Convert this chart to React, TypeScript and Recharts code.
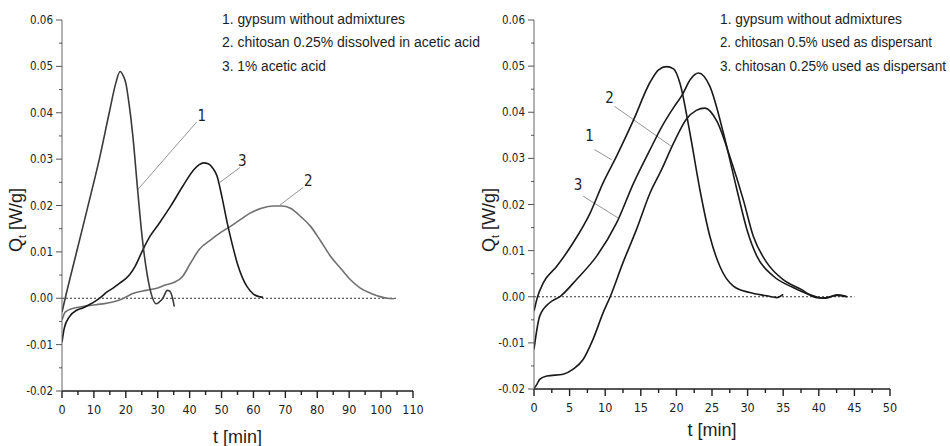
import { LineChart, Line, XAxis, YAxis, ReferenceLine, ReferenceDot } from 'recharts';

// left panel: gypsum / chitosan dissolved in acetic acid
const leftT1 = [0, 1, 4.4, 8, 11.7, 14.8, 16.9, 18.2, 19.3, 20, 21, 22.2, 23.7, 25.1, 26.3, 27.9, 29.5, 30.5, 31.6, 33, 33.6, 34.5, 35.2];
const leftV1 = [-0.003, 0, 0.0095, 0.0195, 0.03, 0.04, 0.0465, 0.0489, 0.0478, 0.0464, 0.042, 0.035, 0.0234, 0.0133, 0.0068, 0.0011, -0.0012, -0.0008, 0, 0.0017, 0.0016, 0.0004, -0.0018];

const leftT2 = [0, 1, 3.3, 6.5, 10.7, 15.9, 19, 22.2, 26.3, 30, 32.6, 35, 37.8, 40.3, 43, 46.6, 50, 52.8, 56, 59.1, 62.5, 66.4, 69, 71.6, 75, 77.9, 81, 84.2, 87.5, 90.4, 93.5, 96.7, 100, 101.9, 104];
const leftV2 = [-0.0047, -0.003, -0.0022, -0.0018, -0.0014, -0.0008, -0.0001, 0.001, 0.0017, 0.0022, 0.0029, 0.0034, 0.0047, 0.0076, 0.0105, 0.0126, 0.0143, 0.0155, 0.017, 0.0184, 0.0194, 0.0199, 0.0199, 0.0194, 0.0175, 0.0155, 0.0124, 0.009, 0.0063, 0.004, 0.0022, 0.0011, 0.0003, 0, -0.0001];

const leftT3 = [0, 0.7, 2.3, 4.6, 6.5, 8.5, 10.7, 12.5, 13.8, 16, 18, 21.1, 23, 25.3, 27.7, 30, 34, 37.8, 41.3, 43, 44.4, 45.8, 47.2, 48.6, 50.2, 51.8, 53.4, 54.9, 56.5, 58, 60, 62.2, 63];
const leftV3 = [-0.0095, -0.0065, -0.004, -0.0026, -0.0021, -0.0014, -0.0005, 0.0004, 0.0012, 0.0022, 0.0032, 0.005, 0.007, 0.0104, 0.0135, 0.0157, 0.0198, 0.0241, 0.0277, 0.0288, 0.0292, 0.029, 0.0281, 0.0263, 0.0216, 0.0162, 0.0115, 0.0076, 0.0045, 0.0025, 0.0009, 0.0003, 0.0002];

// right panel: chitosan used as dispersant
const rightT1 = [0, 0.5, 1.3, 3.2, 5.5, 7.9, 9.7, 11.6, 14, 16.3, 17.5, 18.6, 19.6, 20.5, 21.9, 23.3, 24.7, 26.1, 28, 30.3, 32.7, 34.1, 35];
const rightV1 = [-0.0031, 0, 0.003, 0.0066, 0.0117, 0.0182, 0.0247, 0.0305, 0.0384, 0.0465, 0.0492, 0.0499, 0.0494, 0.0463, 0.0355, 0.0232, 0.0131, 0.0066, 0.0023, 0.0009, 0.0002, -0.0002, 0.0005];

const rightT2 = [0, 0.8, 2.2, 3.7, 6, 8.8, 11.6, 14, 16.3, 18, 19.6, 20.8, 22, 23.1, 24.7, 26.6, 28.5, 29.9, 31.3, 33.6, 36.4, 39.2, 40.5, 42.6, 43.9];
const rightV2 = [-0.0114, -0.0042, -0.0013, 0.0001, 0.0038, 0.0088, 0.016, 0.0247, 0.0319, 0.037, 0.041, 0.0437, 0.0472, 0.0485, 0.0456, 0.0355, 0.0232, 0.0146, 0.0088, 0.0045, 0.002, 0.0002, -0.0003, 0.0003, 0];

const rightT3 = [0, 0.4, 0.8, 1.8, 4.1, 5.5, 6.9, 8.3, 9.7, 10.7, 12.5, 14.4, 16.3, 17.9, 19.6, 21.4, 22.8, 24, 25.7, 27.5, 29.4, 30.8, 32.7, 35, 37.4, 39.7, 41, 42.6, 44];
const rightV3 = [-0.0199, -0.019, -0.0179, -0.0172, -0.0168, -0.0157, -0.0136, -0.0092, -0.0035, 0, 0.0074, 0.0146, 0.0225, 0.0275, 0.0333, 0.0385, 0.0404, 0.0409, 0.038, 0.0304, 0.021, 0.0131, 0.0074, 0.0037, 0.0017, -0.0002, -0.0003, 0.0004, 0];

const yTicks = [-0.02, -0.015, -0.01, -0.005, 0, 0.005, 0.01, 0.015, 0.02, 0.025, 0.03, 0.035, 0.04, 0.045, 0.05, 0.055, 0.06];
const leftXTicks = [0, 5, 10, 15, 20, 25, 30, 35, 40, 45, 50, 55, 60, 65, 70, 75, 80, 85, 90, 95, 100, 105, 110];
const rightXTicks = [0, 2.5, 5, 7.5, 10, 12.5, 15, 17.5, 20, 22.5, 25, 27.5, 30, 32.5, 35, 37.5, 40, 42.5, 45, 47.5, 50];

const leftLegend = ['1. gypsum without admixtures', '2. chitosan 0.25% dissolved in acetic acid', '3. 1% acetic acid'];
const rightLegend = ['1. gypsum without admixtures', '2. chitosan 0.5% used as dispersant', '3. chitosan 0.25% used as dispersant'];

// curve labels: [label, text t, text q, leader start t, q, leader end t, q]
const leftNotes: [string, number, number, number, number, number, number][] = [
	['1', 43.8, 0.0394, 23.7, 0.0234, 42.2, 0.038],
	['3', 56.5, 0.0297, 49.5, 0.025, 55.8, 0.0282],
	['2', 77.2, 0.0253, 68.3, 0.0201, 75.6, 0.0239],
];
const rightNotes: [string, number, number, number, number, number, number][] = [
	['2', 10.6, 0.0431, 19.3, 0.0326, 11.3, 0.0413],
	['1', 7.8, 0.0348, 10.9, 0.0297, 8.5, 0.0319],
	['3', 6.2, 0.0243, 11.8, 0.0171, 6.9, 0.0218],
];

const FONT = "'DejaVu Sans Condensed', 'Liberation Sans', sans-serif";
const LEGEND_FONT = "'Liberation Sans', Arial, sans-serif";
const INK = '#1e1e1e';

const toPoints = (t: number[], v: number[]) => t.map((x, i) => ({ t: x, q: v[i] }));

const YTick = ({ x, y, payload }: any) => {
	const val = payload.value as number;
	const major = Math.abs(val * 100 - Math.round(val * 100)) < 1e-6;
	return (
		<g>
			<line x1={x} x2={x - (major ? 6 : 3)} y1={y} y2={y} stroke='#555' />
			{major && (
				<text x={x - 9} y={y} dy={4} textAnchor='end' fontSize={11.5} fontFamily={FONT} fill={INK}>
					{val.toFixed(2)}
				</text>
			)}
		</g>
	);
};

const makeXTick = (step: number) => ({ x, y, payload }: any) => {
	const val = payload.value as number;
	const major = Math.abs(val / step - Math.round(val / step)) < 1e-6;
	return (
		<g>
			<line x1={x} x2={x} y1={y} y2={y + (major ? 7 : 4)} stroke={INK} strokeWidth={1.4} />
			{major && (
				<text x={x} y={y + 23} textAnchor='middle' fontSize={12.5} fontFamily={FONT} fill={INK}>
					{val}
				</text>
			)}
		</g>
	);
};

type Series = { t: number[]; v: number[]; color: string };

type PanelProps = {
	left: number;
	plotLeft: number;
	plotRight: number;
	plotBottom: number;
	xMax: number;
	xTicks: number[];
	xStep: number;
	zeroEnd: number;
	series: Series[];
	notes: [string, number, number, number, number, number, number][];
	legend: string[];
	legendX: number;
	legendWidths: number[];
	titleX: number;
	xTitleY: number;
};

const Panel = (p: PanelProps) => {
	const W = 475;
	const H = 446;
	return (
		<div style={{ position: 'absolute', left: p.left, top: 0, width: W, height: H }}>
			<LineChart
				width={W}
				height={H}
				margin={{ top: 20, right: W - p.plotRight, bottom: H - p.plotBottom - 30, left: 0 }}
			>
				<XAxis
					type='number'
					dataKey='t'
					domain={[0, p.xMax]}
					ticks={p.xTicks}
					interval={0}
					height={30}
					tickSize={0}
					tickMargin={0}
					tick={makeXTick(p.xStep)}
					stroke={INK}
					strokeWidth={1.4}
					allowDataOverflow
				/>
				<YAxis
					type='number'
					domain={[-0.02, 0.06]}
					ticks={yTicks}
					interval={0}
					width={p.plotLeft}
					tickSize={0}
					tickMargin={0}
					tick={<YTick />}
					stroke='#666'
					allowDataOverflow
				/>
				<ReferenceLine
					segment={[{ x: 0, y: 0 }, { x: p.zeroEnd, y: 0 }]}
					stroke='#333'
					strokeDasharray='2 2'
				/>
				{p.notes.map((n, i) => (
					<ReferenceLine
						key={'l' + i}
						segment={[{ x: n[3], y: n[4] }, { x: n[5], y: n[6] }]}
						stroke='#777'
						strokeWidth={0.8}
					/>
				))}
				{p.notes.map((n, i) => (
					<ReferenceDot
						key={'d' + i}
						x={n[1]}
						y={n[2]}
						r={0}
						shape={(s: any) => (
							<text x={s.cx} y={s.cy} dy={5} textAnchor='middle' fontSize={15} fontFamily={FONT} fill={INK}>
								{n[0]}
							</text>
						)}
					/>
				))}
				{p.series.map((s, i) => (
					<Line
						key={i}
						data={toPoints(s.t, s.v)}
						dataKey='q'
						type='monotone'
						stroke={s.color}
						strokeWidth={1.6}
						dot={false}
						isAnimationActive={false}
					/>
				))}
			</LineChart>
			<svg width={W} height={H} style={{ position: 'absolute', left: 0, top: 0, pointerEvents: 'none', overflow: 'visible' }}>
				{p.legend.map((txt, i) => (
					<text
						key={i}
						x={p.legendX}
						y={24 + i * 23.3}
						fontSize={15.5}
						fontFamily={LEGEND_FONT}
						fill={INK}
						textLength={p.legendWidths[i]}
						lengthAdjust='spacingAndGlyphs'
					>
						{txt}
					</text>
				))}
				<text
					transform={`translate(${p.titleX}, 220) rotate(-90)`}
					textAnchor='middle'
					fontSize={18}
					fontFamily={LEGEND_FONT}
					fill={INK}
				>
					Q<tspan fontSize={11} dy={4}>t</tspan>
					<tspan dy={-4}> [W/g]</tspan>
				</text>
				<text x={(p.plotLeft + p.plotRight) / 2} y={p.xTitleY} textAnchor='middle' fontSize={18} fontFamily={LEGEND_FONT} fill={INK}>
					t [min]
				</text>
			</svg>
		</div>
	);
};

const App = () => {
	return (
		<div style={{ position: 'absolute', left: 0, top: 0, width: 950, height: 446, background: '#fff', overflow: 'hidden' }}>
			<Panel
				left={0}
				plotLeft={62}
				plotRight={413}
				plotBottom={391}
				xMax={110}
				xTicks={leftXTicks}
				xStep={10}
				zeroEnd={105}
				series={[
					{ t: leftT2, v: leftV2, color: '#707070' },
					{ t: leftT3, v: leftV3, color: '#1a1a1a' },
					{ t: leftT1, v: leftV1, color: '#3a3a3a' },
				]}
				notes={leftNotes}
				legend={leftLegend}
				legendX={222}
				legendWidths={[183, 258, 104]}
				titleX={22}
				xTitleY={443}
			/>
			<Panel
				left={475}
				plotLeft={59}
				plotRight={415}
				plotBottom={389}
				xMax={50}
				xTicks={rightXTicks}
				xStep={5}
				zeroEnd={45}
				series={[
					{ t: rightT1, v: rightV1, color: '#1a1a1a' },
					{ t: rightT2, v: rightV2, color: '#1a1a1a' },
					{ t: rightT3, v: rightV3, color: '#1a1a1a' },
				]}
				notes={rightNotes}
				legend={rightLegend}
				legendX={245}
				legendWidths={[182, 212, 226]}
				titleX={20}
				xTitleY={436}
			/>
		</div>
	);
};

export default App;
